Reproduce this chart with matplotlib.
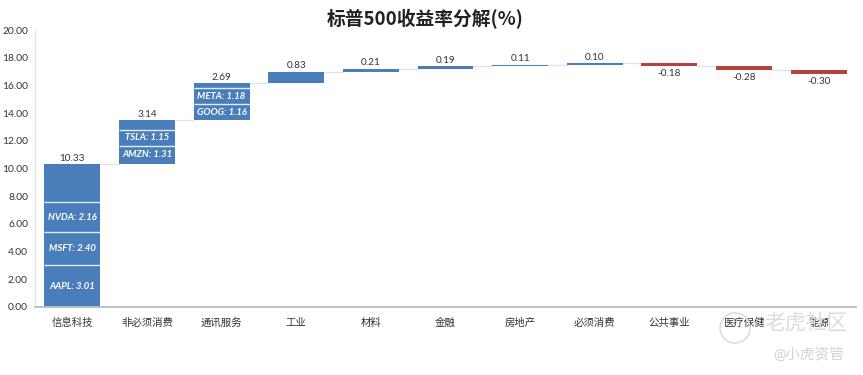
import matplotlib
matplotlib.use('Agg')
import matplotlib.pyplot as plt
from matplotlib.patches import Ellipse
import numpy as np

plt.rcParams['font.family'] = ['Lato', 'Noto Sans CJK SC', 'DejaVu Sans']

categories = ['信息科技', '非必须消费', '通讯服务', '工业', '材料', '金融', '房地产', '必须消费', '公共事业', '医疗保健', '能源']
values = [10.33, 3.14, 2.69, 0.83, 0.21, 0.19, 0.11, 0.10, -0.18, -0.28, -0.30]

# stocks inside the first three bars, bottom to top
stock_names = [['AAPL', 'MSFT', 'NVDA'], ['AMZN', 'TSLA'], ['GOOG', 'META']]
stock_values = [[3.01, 2.40, 2.16], [1.31, 1.15], [1.16, 1.18]]

BLUE = '#4a7ebb'
RED = '#b8413e'

fig = plt.figure(figsize=(8.63, 3.75), dpi=100)
ax = fig.add_axes([35 / 863, (375 - 307) / 375, (856 - 35) / 863, 277 / 375])

x = np.arange(len(values))
width = 0.75
ends = np.cumsum(values)
starts = ends - np.array(values)

ax.bar(x, values, width, bottom=starts, color=[BLUE if v > 0 else RED for v in values], zorder=2)

# white lines between the stocks and their labels
for i in range(len(stock_names)):
    base = starts[i]
    for name, val in zip(stock_names[i], stock_values[i]):
        ax.text(x[i], base + val / 2, f'{name}: {val:.2f}', color='white', fontsize=6.8,
                style='italic', weight='bold', ha='center', va='center', zorder=4)
        base += val
        ax.plot([x[i] - width / 2, x[i] + width / 2], [base, base], color='#e4ecf5', lw=1.0, zorder=3,
                solid_capstyle='butt')

# connectors
for i in range(len(values) - 1):
    ax.plot([x[i] + width / 2, x[i + 1] - width / 2], [ends[i], ends[i]], color='#e2e2e2', lw=0.9, zorder=1)

for i, v in enumerate(values):
    if v > 0:
        ax.text(x[i], ends[i] + 0.1, f'{v:.2f}', ha='center', va='bottom', fontsize=7.2, color='#333333')
    else:
        ax.text(x[i], ends[i] - 0.25, f'{v:.2f}', ha='center', va='top', fontsize=7.2, color='#333333')

ax.set_xlim(-0.5, len(values) - 0.5)
ax.set_ylim(0, 20)
ax.set_yticks(np.arange(0, 21, 2))
ax.set_yticklabels([f'{t:.2f}' for t in np.arange(0, 21, 2)])
ax.set_xticks(x)
ax.set_xticklabels(categories, va='baseline')
ax.tick_params(axis='both', length=0, labelcolor='#333333')
ax.tick_params(axis='x', pad=13.5, labelsize=7.5)
ax.tick_params(axis='y', pad=5, labelsize=7.4)
for s in ['top', 'right']:
    ax.spines[s].set_visible(False)
ax.spines['left'].set_color('#dfe3ea')
ax.spines['left'].set_linewidth(1.0)
ax.spines['bottom'].set_color('#b4bfcc')
ax.spines['bottom'].set_linewidth(1.3)

fig.text(425 / 863, 1 - 19.5 / 375, '标普500收益率分解(%)', ha='center', va='center', fontsize=13.5,
         weight='bold', color='#222222', family=['Noto Sans CJK SC', 'DejaVu Sans'])

# watermark
fig.text(806 / 863, 1 - 323 / 375, '老虎社区', ha='center', va='center', fontsize=15, color='#dcdcdc', zorder=5)
fig.text(809 / 863, 1 - 355 / 375, '@小虎资管', ha='center', va='center', fontsize=10.5, color='#d2d2d2', zorder=5)
fig.add_artist(Ellipse((735 / 863, 1 - 328 / 375), 30 / 863, 30 / 375, fill=False, ec='#dcdcdc', lw=1.2))

fig.savefig('out.png', dpi=100)
